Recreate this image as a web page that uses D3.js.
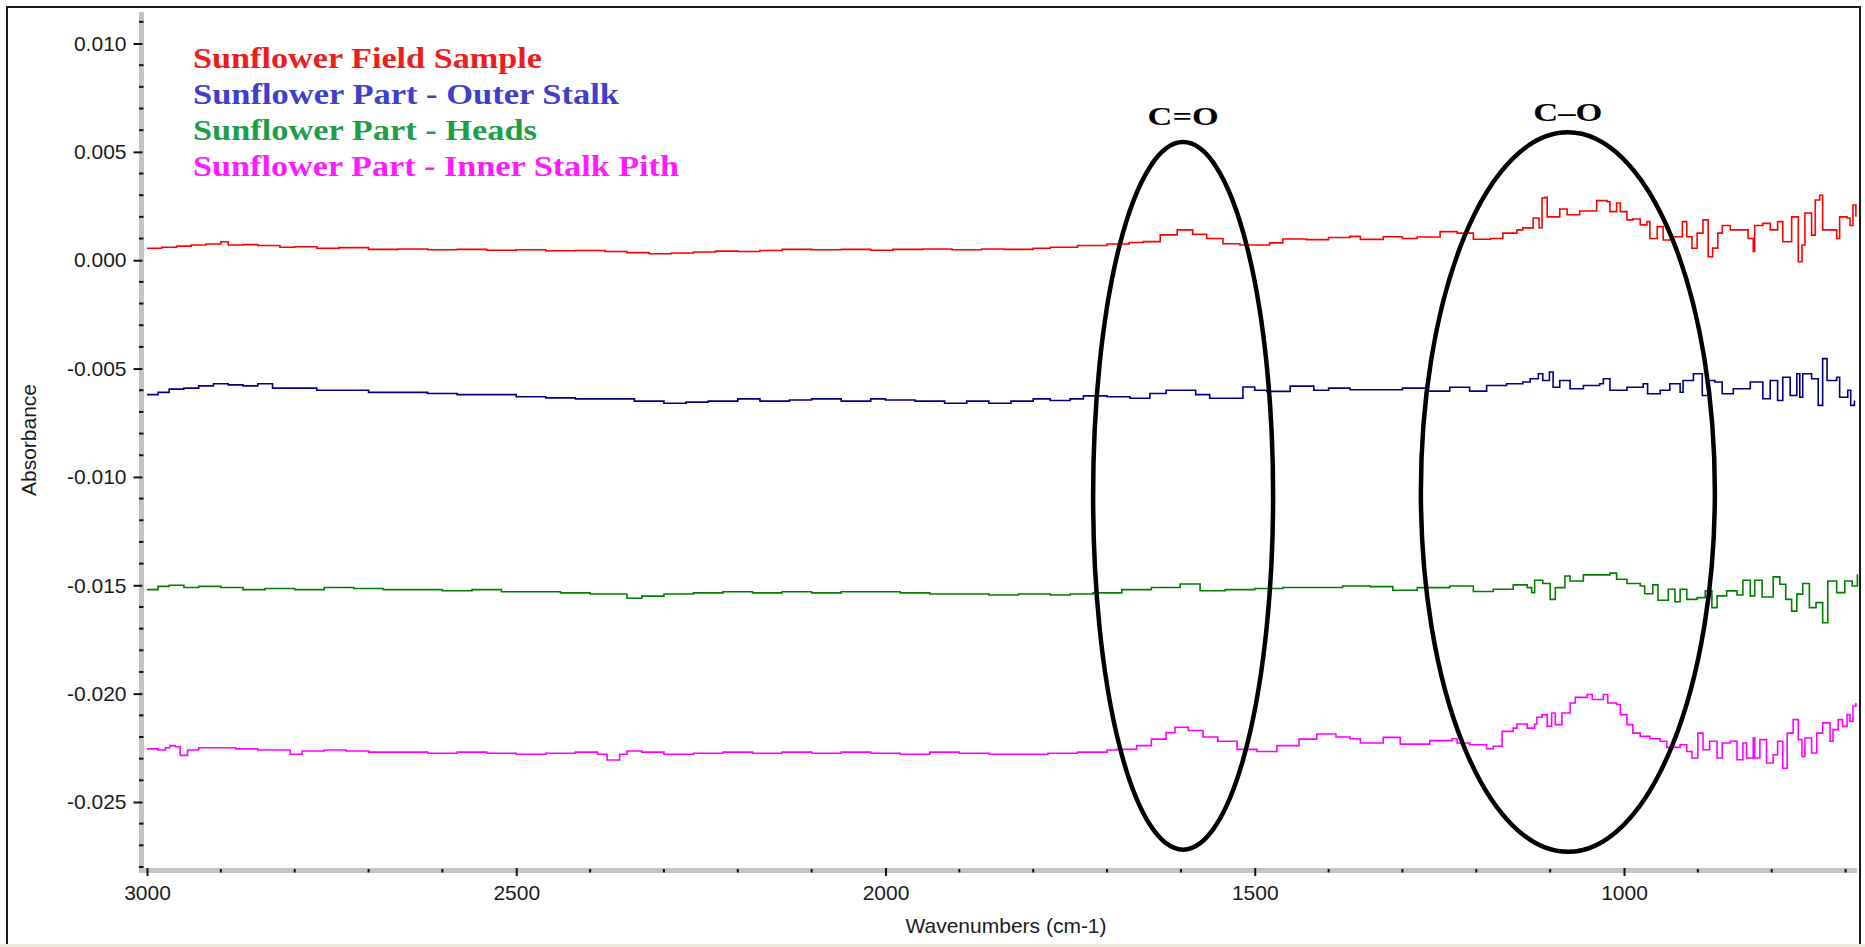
<!DOCTYPE html>
<html>
<head>
<meta charset="utf-8">
<script src="https://cdn.jsdelivr.net/npm/d3@7/dist/d3.min.js"></script>
<style>
  html, body { margin: 0; padding: 0; background: #ffffff; }
  svg { display: block; }
</style>
</head>
<body>
<svg id="chart" width="1865" height="947"></svg>
<script>
// ---------------- DATA ----------------
const seriesNames = [
  "Sunflower Field Sample",
  "Sunflower Part - Outer Stalk",
  "Sunflower Part - Heads",
  "Sunflower Part - Inner Stalk Pith"
];

// Sunflower Field Sample (red): [wavenumber, absorbance]
const fieldSample = [
  [3000,0.00055],[2980,0.0006],[2960,0.00065],[2940,0.0007],[2920,0.00075],[2900,0.00085],[2890,0.0007],
  [2870,0.00072],[2850,0.00068],[2820,0.0006],[2800,0.00062],[2770,0.00055],[2740,0.00058],[2700,0.0005],
  [2660,0.00052],[2620,0.00048],[2580,0.0005],[2540,0.00046],[2500,0.00048],[2460,0.00044],[2420,0.00045],
  [2380,0.0004],[2350,0.00035],[2320,0.0003],[2290,0.00033],[2260,0.00038],[2230,0.00042],[2200,0.0004],
  [2170,0.00045],[2140,0.0005],[2100,0.00048],[2060,0.0005],[2020,0.00046],[1990,0.0005],[1950,0.00052],
  [1910,0.00048],[1870,0.00052],[1840,0.0005],[1800,0.00055],[1777,0.0006],[1740,0.00068],[1700,0.00075],
  [1670,0.00082],[1651,0.00086],[1628,0.00117],[1605,0.0014],[1584,0.0012],[1565,0.001],[1543,0.00076],
  [1520,0.0007],[1497,0.0007],[1480,0.0008],[1462,0.00098],[1430,0.00095],[1400,0.00105],[1371,0.0011],
  [1357,0.00096],[1326,0.00108],[1300,0.001],[1280,0.00107],[1249,0.00132],[1226,0.00125],[1204,0.00097],
  [1181,0.001],[1164,0.00125],[1145,0.0014],[1137,0.00149],[1123,0.00195],[1115,0.0015],[1111,0.00287],
  [1107,0.0029],[1104,0.002],[1096,0.002],[1087,0.00236],[1077,0.0021],[1060,0.00227],[1037,0.00275],
  [1023,0.0027],[1019,0.00224],[1010,0.00264],[1005,0.00224],[996,0.00186],[988,0.0019],[978,0.00163],
  [969,0.00178],[965,0.001],[955,0.00155],[947,0.00093],[935,0.00108],[921,0.00178],[915,0.00108],
  [908,0.00055],[901,0.00125],[893,0.00186],[886,0.00016],[880,0.00056],[873,0.00125],[867,0.0016],
  [856,0.0014],[839,0.0014],[832,0.001],[825,0.0004],[823,0.0016],[812,0.0017],[802,0.0014],[792,0.00178],
  [785,0.00085],[773,0.002],[764,-0.00007],[759,0.0007],[755,0.00218],[746,0.00116],[741,0.00278],
  [735,0.003],[731,0.0014],[721,0.0014],[712,0.001],[708,0.002],[698,0.00195],[694,0.0016],[690,0.00255],
  [686,0.002]
];

// Sunflower Part - Outer Stalk (navy)
const outerStalk = [
  [3000,-0.0062],[2985,-0.0061],[2970,-0.00595],[2950,-0.0059],[2930,-0.0058],[2910,-0.0057],[2890,-0.00575],
  [2870,-0.0058],[2850,-0.0057],[2830,-0.0059],[2800,-0.0059],[2770,-0.006],[2740,-0.006],[2700,-0.0061],
  [2660,-0.0061],[2620,-0.00615],[2580,-0.0062],[2540,-0.0062],[2500,-0.0063],[2460,-0.00635],[2420,-0.0064],
  [2380,-0.0064],[2340,-0.0065],[2300,-0.0066],[2270,-0.00655],[2240,-0.0065],[2200,-0.0064],[2170,-0.0065],
  [2130,-0.00645],[2100,-0.0064],[2060,-0.0065],[2020,-0.0064],[2000,-0.00645],[1960,-0.0065],[1920,-0.0066],
  [1890,-0.0065],[1860,-0.0066],[1830,-0.0065],[1800,-0.0064],[1777,-0.00647],[1750,-0.0064],[1732,-0.00626],
  [1700,-0.0063],[1669,-0.00637],[1642,-0.00615],[1620,-0.006],[1605,-0.006],[1580,-0.0062],[1561,-0.00637],
  [1538,-0.00637],[1516,-0.00585],[1500,-0.006],[1484,-0.00605],[1452,-0.00581],[1420,-0.006],[1400,-0.0059],
  [1371,-0.00598],[1326,-0.00598],[1300,-0.0059],[1267,-0.00604],[1236,-0.00586],[1209,-0.00604],
  [1186,-0.00578],[1159,-0.0057],[1137,-0.00562],[1127,-0.00547],[1116,-0.00524],[1110,-0.00555],
  [1101,-0.00516],[1096,-0.00586],[1087,-0.00555],[1073,-0.00593],[1055,-0.00578],[1033,-0.0057],
  [1028,-0.00547],[1019,-0.006],[996,-0.00586],[974,-0.0057],[968,-0.00616],[951,-0.006],[938,-0.0057],
  [924,-0.00609],[920,-0.00555],[906,-0.00524],[894,-0.00624],[886,-0.00555],[877,-0.00562],[867,-0.00616],
  [852,-0.00593],[829,-0.00562],[812,-0.00639],[802,-0.00555],[792,-0.00647],[785,-0.0054],[775,-0.00624],
  [766,-0.00524],[762,-0.00632],[758,-0.00524],[746,-0.00547],[737,-0.0067],[731,-0.00454],[725,-0.00555],
  [712,-0.0054],[708,-0.00632],[697,-0.006],[693,-0.0067],[688,-0.00647]
];

// Sunflower Part - Heads (green)
const heads = [
  [3000,-0.0152],[2985,-0.01505],[2970,-0.015],[2950,-0.0151],[2930,-0.01505],[2900,-0.0151],[2870,-0.0152],
  [2840,-0.01515],[2800,-0.0152],[2760,-0.0151],[2720,-0.01515],[2680,-0.0152],[2640,-0.0152],[2600,-0.01525],
  [2560,-0.0152],[2520,-0.0153],[2480,-0.0153],[2440,-0.01535],[2400,-0.0154],[2370,-0.0154],[2350,-0.0156],
  [2330,-0.0155],[2300,-0.0154],[2260,-0.01535],[2220,-0.0153],[2180,-0.01535],[2140,-0.0153],[2100,-0.01535],
  [2060,-0.0153],[2020,-0.0153],[1980,-0.01535],[1940,-0.0154],[1900,-0.0154],[1860,-0.01545],[1820,-0.0154],
  [1777,-0.01545],[1750,-0.0154],[1719,-0.01535],[1680,-0.0152],[1640,-0.0151],[1601,-0.01494],[1574,-0.01525],
  [1540,-0.0152],[1500,-0.01515],[1462,-0.0151],[1420,-0.0151],[1381,-0.01503],[1344,-0.01506],[1313,-0.01523],
  [1280,-0.01511],[1236,-0.01503],[1204,-0.01529],[1177,-0.01518],[1150,-0.01498],[1131,-0.01511],
  [1125,-0.01534],[1121,-0.01477],[1110,-0.01492],[1100,-0.01565],[1093,-0.01511],[1080,-0.01457],
  [1073,-0.0148],[1055,-0.01452],[1037,-0.01452],[1019,-0.01444],[1010,-0.01472],[996,-0.01492],
  [978,-0.01503],[972,-0.01539],[961,-0.01498],[954,-0.01569],[940,-0.01518],[931,-0.01576],[924,-0.01518],
  [915,-0.01565],[901,-0.01557],[890,-0.01526],[881,-0.01603],[874,-0.01549],[861,-0.01526],[847,-0.01545],
  [839,-0.01477],[829,-0.01549],[823,-0.01477],[813,-0.01554],[798,-0.01461],[789,-0.01495],[781,-0.01565],
  [773,-0.01619],[766,-0.01541],[758,-0.01492],[749,-0.01603],[740,-0.0158],[731,-0.01673],[724,-0.0148],
  [712,-0.01534],[701,-0.0148],[691,-0.01503],[684,-0.01449]
];

// Sunflower Part - Inner Stalk Pith (magenta)
const innerPith = [
  [3000,-0.02255],[2985,-0.0226],[2975,-0.0225],[2969,-0.0224],[2962,-0.02245],[2955,-0.02285],[2945,-0.0226],
  [2930,-0.0225],[2900,-0.0225],[2880,-0.02255],[2850,-0.0226],[2820,-0.0226],[2806,-0.0228],[2790,-0.02265],
  [2760,-0.0226],[2730,-0.02265],[2700,-0.0227],[2660,-0.0227],[2620,-0.02275],[2580,-0.0227],[2540,-0.02275],
  [2500,-0.0228],[2460,-0.02275],[2420,-0.0227],[2390,-0.0228],[2377,-0.02306],[2360,-0.0228],[2350,-0.02265],
  [2330,-0.0227],[2300,-0.0228],[2260,-0.02275],[2220,-0.0227],[2180,-0.02275],[2140,-0.0227],[2100,-0.02275],
  [2060,-0.0227],[2020,-0.02275],[1980,-0.0228],[1940,-0.0227],[1900,-0.02275],[1860,-0.0228],[1820,-0.0228],
  [1780,-0.02275],[1740,-0.0227],[1700,-0.0226],[1687,-0.02257],[1660,-0.0224],[1640,-0.0221],[1620,-0.0218],
  [1608,-0.02155],[1590,-0.0217],[1570,-0.022],[1550,-0.0222],[1524,-0.02257],[1497,-0.02267],[1470,-0.0224],
  [1440,-0.0221],[1416,-0.02186],[1390,-0.022],[1371,-0.02208],[1357,-0.02228],[1326,-0.02202],[1303,-0.02233],
  [1263,-0.02217],[1233,-0.02208],[1226,-0.02228],[1209,-0.02236],[1186,-0.02254],[1177,-0.02243],
  [1165,-0.02174],[1150,-0.02159],[1145,-0.0214],[1131,-0.02159],[1121,-0.0214],[1118,-0.02109],
  [1111,-0.02097],[1104,-0.02151],[1098,-0.02089],[1093,-0.02143],[1084,-0.02089],[1073,-0.02043],
  [1066,-0.02017],[1050,-0.02004],[1043,-0.02027],[1028,-0.02004],[1022,-0.02043],[1010,-0.0205],
  [1005,-0.02097],[996,-0.02143],[988,-0.02182],[978,-0.02197],[965,-0.02208],[951,-0.0222],[942,-0.02248],
  [924,-0.02236],[915,-0.02267],[908,-0.02297],[900,-0.02182],[893,-0.02259],[884,-0.0222],[874,-0.02297],
  [867,-0.02228],[856,-0.0222],[847,-0.02305],[839,-0.02228],[834,-0.02297],[825,-0.02205],[823,-0.02297],
  [816,-0.02212],[807,-0.0232],[798,-0.02282],[792,-0.0222],[785,-0.02344],[779,-0.02182],[771,-0.0212],
  [764,-0.02212],[759,-0.0229],[755,-0.02205],[746,-0.02274],[739,-0.02182],[731,-0.02135],[721,-0.0222],
  [717,-0.02166],[710,-0.0212],[704,-0.02151],[698,-0.02097],[694,-0.02128],[690,-0.02058],[686,-0.02043]
];

const xMajorTicks = [3000, 2500, 2000, 1500, 1000];
const xMinorTicks = [2900,2800,2700,2600,2400,2300,2200,2100,1900,1800,1700,1600,1400,1300,1200,1100,900,800,700];
const yMajorTicks = [0.010, 0.005, 0.000, -0.005, -0.010, -0.015, -0.020, -0.025];
const yMajorLabels = ["0.010","0.005","0.000","-0.005","-0.010","-0.015","-0.020","-0.025"];
const yMinorTicks = [0.011,0.009,0.008,0.007,0.006,0.004,0.003,0.002,0.001,-0.001,-0.002,-0.003,-0.004,
  -0.006,-0.007,-0.008,-0.009,-0.011,-0.012,-0.013,-0.014,-0.016,-0.017,-0.018,-0.019,-0.021,-0.022,-0.023,
  -0.024,-0.026,-0.027,-0.028];

// Annotation regions: [label, center wavenumber]
const bandLabels = ["C=O", "C\u2013O"];
const bandCenters = [1597, 1076];

// ---------------- DRAWING ----------------
const svg = d3.select("#chart");
const lineColors = ["#ff0000", "#000080", "#008000", "#ff00ff"];
const legendColors = ["#ee1c1c", "#3f3fcc", "#1f9e4a", "#ff1aff"];

const x = d3.scaleLinear().domain([3000, 1000]).range([147, 1624]);
const y = d3.scaleLinear().domain([0.010, -0.025]).range([43.5, 802]);

// outer window frame (top, left, right edges) and bottom strip
svg.append("rect").attr("x", 0).attr("y", 0).attr("width", 1865).attr("height", 947).attr("fill", "#ffffff");
svg.append("rect").attr("x", 0).attr("y", 944).attr("width", 1865).attr("height", 3).attr("fill", "#ece9d8");
svg.append("path").attr("d", "M7,944 L7,7 L1860,7 L1860,944")
  .attr("fill", "none").attr("stroke", "#1a1a1a").attr("stroke-width", 2);

// gray axis bars
svg.append("line").attr("x1", 141.5).attr("x2", 141.5).attr("y1", 12).attr("y2", 873)
  .attr("stroke", "#c4c4c4").attr("stroke-width", 5);
svg.append("line").attr("x1", 139).attr("x2", 1857).attr("y1", 870.5).attr("y2", 870.5)
  .attr("stroke", "#c4c4c4").attr("stroke-width", 5);

// Y axis (major ticks + labels)
const yAxis = d3.axisLeft(y).tickValues(yMajorTicks).tickSize(9).tickPadding(7)
  .tickFormat((d, i) => yMajorLabels[i]);
const gy = svg.append("g").attr("transform", "translate(142.5,0)").call(yAxis);
gy.select(".domain").remove();
gy.selectAll(".tick line").attr("stroke", "#111").attr("stroke-width", 2);
gy.selectAll(".tick text").attr("fill", "#1a1a1a")
  .style("font-family", "'Liberation Sans', Arial, sans-serif").style("font-size", "21px");

// Y minor ticks
svg.append("g").selectAll("line").data(yMinorTicks).join("line")
  .attr("x1", 139).attr("x2", 143.5)
  .attr("y1", d => y(d)).attr("y2", d => y(d))
  .attr("stroke", "#111").attr("stroke-width", 2);

// X axis (major ticks + labels)
const xAxis = d3.axisBottom(x).tickValues(xMajorTicks).tickSize(8).tickPadding(9)
  .tickFormat(d3.format("d"));
const gx = svg.append("g").attr("transform", "translate(0,868)").call(xAxis);
gx.select(".domain").remove();
gx.selectAll(".tick line").attr("stroke", "#111").attr("stroke-width", 2);
gx.selectAll(".tick text").attr("fill", "#1a1a1a")
  .style("font-family", "'Liberation Sans', Arial, sans-serif").style("font-size", "21px");

// X minor ticks
svg.append("g").selectAll("line").data(xMinorTicks).join("line")
  .attr("x1", d => x(d)).attr("x2", d => x(d))
  .attr("y1", 869).attr("y2", 872.5)
  .attr("stroke", "#111").attr("stroke-width", 2);

// axis titles
svg.append("text").attr("transform", "translate(36,440) rotate(-90)")
  .attr("text-anchor", "middle").attr("fill", "#1a1a1a")
  .style("font-family", "'Liberation Sans', Arial, sans-serif").style("font-size", "21px")
  .text("Absorbance");
svg.append("text").attr("x", 1006).attr("y", 933)
  .attr("text-anchor", "middle").attr("fill", "#1a1a1a")
  .style("font-family", "'Liberation Sans', Arial, sans-serif").style("font-size", "21px")
  .text("Wavenumbers (cm-1)");

// spectra
const line = d3.line().x(d => x(d[0])).y(d => y(d[1])).curve(d3.curveStepAfter);
const allSeries = [fieldSample, outerStalk, heads, innerPith];
svg.append("g").selectAll("path").data(allSeries).join("path")
  .attr("d", d => line(d))
  .attr("fill", "none")
  .attr("stroke", (d, i) => lineColors[i])
  .attr("stroke-width", 1.6)
  .attr("stroke-linejoin", "miter");

// legend
const legendWidths = [349, 426, 344, 486];
const legendBaselines = [68, 104, 140, 176];
svg.append("g").selectAll("text").data(seriesNames).join("text")
  .attr("x", 193)
  .attr("y", (d, i) => legendBaselines[i])
  .attr("fill", (d, i) => legendColors[i])
  .attr("textLength", (d, i) => legendWidths[i])
  .attr("lengthAdjust", "spacingAndGlyphs")
  .style("font-family", "'Liberation Serif', 'Times New Roman', serif")
  .style("font-weight", "bold").style("font-size", "29px")
  .text(d => d);

// ellipses around bands
const ellipseRx = [90, 147];
const ellipseTop = [0.00545, 0.0059];
const ellipseBottom = [-0.0272, -0.0273];
svg.append("g").selectAll("ellipse").data(bandCenters).join("ellipse")
  .attr("cx", d => x(d))
  .attr("cy", (d, i) => (y(ellipseTop[i]) + y(ellipseBottom[i])) / 2)
  .attr("rx", (d, i) => ellipseRx[i])
  .attr("ry", (d, i) => (y(ellipseBottom[i]) - y(ellipseTop[i])) / 2)
  .attr("fill", "none").attr("stroke", "#000").attr("stroke-width", 4.5);

// band labels
const labelBaselines = [125, 121];
const labelWidths = [71, 69];
svg.append("g").selectAll("text").data(bandLabels).join("text")
  .attr("x", (d, i) => x(bandCenters[i]) - labelWidths[i] / 2)
  .attr("y", (d, i) => labelBaselines[i])
  .attr("textLength", (d, i) => labelWidths[i])
  .attr("lengthAdjust", "spacingAndGlyphs")
  .attr("fill", "#000")
  .style("font-family", "'Liberation Serif', 'Times New Roman', serif")
  .style("font-weight", "bold").style("font-size", "25px")
  .text(d => d);
</script>
</body>
</html>
